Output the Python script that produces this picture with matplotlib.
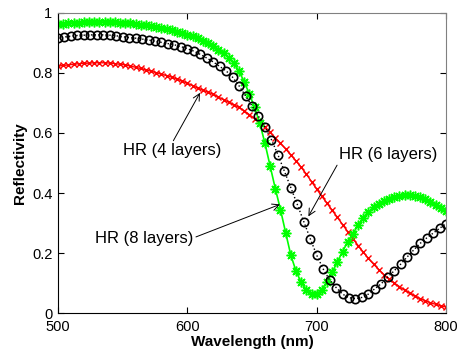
import numpy as np
import matplotlib
matplotlib.use("Agg")
import matplotlib.pyplot as plt

plt.rcParams['font.family'] = ['Liberation Sans', 'DejaVu Sans']

# wavelength grids (nm)
wl_fine = np.arange(500, 801, 4)
wl_coarse = np.arange(500, 801, 5)

# HR (4 layers) - red
r4 = [0.823, 0.825, 0.827, 0.829, 0.831, 0.832, 0.833, 0.834, 0.834, 0.834,
      0.833, 0.831, 0.829, 0.827, 0.823, 0.819, 0.815, 0.810, 0.806, 0.801,
      0.796, 0.791, 0.786, 0.780, 0.773, 0.766, 0.758, 0.750, 0.743, 0.736,
      0.729, 0.720, 0.711, 0.703, 0.694, 0.685, 0.674, 0.661, 0.648, 0.634,
      0.619, 0.602, 0.584, 0.566, 0.547, 0.527, 0.507, 0.486, 0.463, 0.438,
      0.413, 0.389, 0.366, 0.342, 0.319, 0.295, 0.271, 0.248, 0.225, 0.203,
      0.182, 0.163, 0.145, 0.128, 0.114, 0.100, 0.088, 0.076, 0.066, 0.057,
      0.048, 0.041, 0.034, 0.029, 0.024, 0.020]

# HR (8 layers) - green
r8 = [0.962, 0.964, 0.966, 0.967, 0.968, 0.969, 0.969, 0.970, 0.970, 0.970,
      0.969, 0.969, 0.968, 0.967, 0.965, 0.963, 0.961, 0.959, 0.956, 0.953,
      0.950, 0.946, 0.942, 0.938, 0.933, 0.928, 0.922, 0.915, 0.908, 0.900,
      0.890, 0.878, 0.866, 0.851, 0.832, 0.806, 0.770, 0.730, 0.685, 0.633,
      0.566, 0.490, 0.415, 0.345, 0.268, 0.193, 0.140, 0.102, 0.077, 0.063,
      0.062, 0.078, 0.104, 0.136, 0.170, 0.205, 0.237, 0.265, 0.292, 0.318,
      0.337, 0.352, 0.364, 0.374, 0.381, 0.386, 0.390, 0.392, 0.392, 0.390,
      0.386, 0.379, 0.371, 0.361, 0.350, 0.339]

# HR (6 layers) - black
r6 = [0.916, 0.920, 0.923, 0.925, 0.926, 0.927, 0.927, 0.927, 0.926, 0.924,
      0.921, 0.918, 0.916, 0.913, 0.910, 0.906, 0.902, 0.898, 0.894, 0.888,
      0.881, 0.873, 0.862, 0.850, 0.837, 0.822, 0.807, 0.786, 0.757, 0.724,
      0.690, 0.656, 0.620, 0.578, 0.528, 0.473, 0.418, 0.362, 0.305, 0.248,
      0.193, 0.147, 0.110, 0.085, 0.063, 0.051, 0.048, 0.052, 0.063, 0.081,
      0.098, 0.120, 0.141, 0.163, 0.187, 0.210, 0.232, 0.250, 0.266, 0.282,
      0.298]

xticks = [500, 600, 700, 800]
yticks = [0, 0.2, 0.4, 0.6, 0.8, 1]
ytick_labels = ['0', '0.2', '0.4', '0.6', '0.8', '1']

fig = plt.figure(figsize=(4.61, 3.54), dpi=100)
ax = fig.add_axes([0.1258, 0.1158, 0.8417, 0.8475])

ax.plot(wl_fine, r4, color='red', lw=1, marker='x', ms=4.5, mew=1)
ax.plot(wl_fine, r8, color='#00ff00', lw=1.2, marker=(8, 2, 0), ms=7, mew=1.1)
ax.plot(wl_coarse, r6, color='black', lw=1, ls=':', marker='o', ms=6,
        mfc='none', mew=1.2)

ax.set_xlim(500, 800)
ax.set_ylim(0, 1)
ax.set_xticks(xticks)
ax.set_yticks(yticks)
ax.set_yticklabels(ytick_labels)
ax.tick_params(direction='in', length=4, top=True, right=True,
               labelsize=10.5, pad=4)
ax.tick_params(axis='x', pad=5)
for s in ['top', 'right']:
    ax.spines[s].set_color('#808080')

ax.set_xlabel('Wavelength (nm)', fontsize=11, fontweight='bold', labelpad=1)
ax.set_ylabel('Reflectivity', fontsize=11, fontweight='bold', labelpad=4)

arrow = dict(arrowstyle='->', color='black', lw=0.7, shrinkA=0, shrinkB=0)
ax.annotate('HR (4 layers)', xy=(609.8, 0.734), xytext=(588, 0.54),
            ha='center', va='center', fontsize=12,
            arrowprops=dict(arrow, relpos=(0.5, 1)))
ax.annotate('HR (6 layers)', xy=(693.6, 0.322), xytext=(755, 0.527),
            ha='center', va='center', fontsize=12,
            arrowprops=dict(arrow, relpos=(0.0, 0.0)))
ax.annotate('HR (8 layers)', xy=(671.6, 0.362), xytext=(566.5, 0.25),
            ha='center', va='center', fontsize=12,
            arrowprops=dict(arrow, relpos=(1.0, 0.5)))

fig.savefig('out.png', dpi=100)
